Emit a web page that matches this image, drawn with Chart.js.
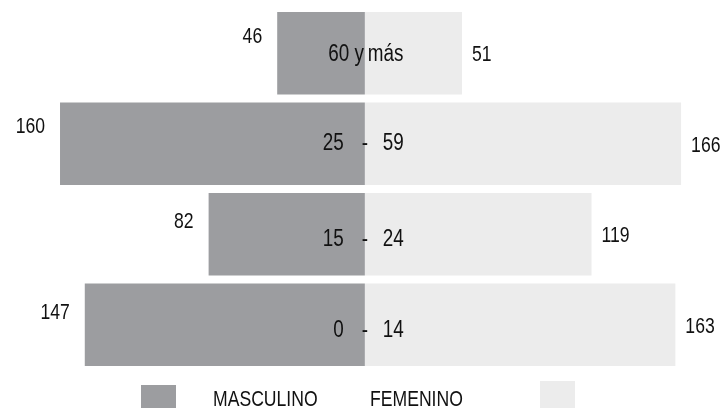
<!DOCTYPE html>
<html>
<head>
<meta charset="utf-8">
<script src="https://cdn.jsdelivr.net/npm/chart.js@4/dist/chart.umd.min.js"></script>
<style>
html,body{margin:0;padding:0;background:#fff;}
#wrap{width:723px;height:408px;position:relative;}
</style>
</head>
<body>
<div id="wrap"><canvas id="c"></canvas></div>
<script>
const categories = ["60 y más", "25 - 59", "15 - 24", "0 - 14"];
const masculino = [46, 160, 82, 147];
const femenino = [51, 166, 119, 163];
const seriesNames = ["MASCULINO", "FEMENINO"];

const FONT = "22px 'Liberation Sans', Arial, sans-serif";
const CAT_FONT = "23px 'Liberation Sans', Arial, sans-serif";
const NARROW = 0.8;
const MASC_COLOR = "#9c9da0";
const FEM_COLOR = "#ececec";
const TEXT_COLOR = "#111111";

function narrowText(ctx, text, x, y, align, sx) {
  ctx.save();
  ctx.translate(x, y);
  ctx.scale(sx || NARROW, 1);
  ctx.textAlign = align;
  ctx.fillText(text, 0, 0);
  ctx.restore();
}

const labelPlugin = {
  id: "pyramidLabels",
  afterDatasetsDraw(chart) {
    const ctx = chart.ctx;
    const xs = chart.scales.x;
    const cx = xs.getPixelForValue(0);
    const mMeta = chart.getDatasetMeta(0);
    const fMeta = chart.getDatasetMeta(1);
    const mascDy = [-16, -17, -12, -12];
    const catDy = [1, 0, 5, 6];
    ctx.save();
    ctx.fillStyle = TEXT_COLOR;
    ctx.textBaseline = "middle";
    categories.forEach((cat, i) => {
      const mb = mMeta.data[i];
      const fb = fMeta.data[i];
      const y = mb.y;
      ctx.font = FONT;
      narrowText(ctx, String(masculino[i]), Math.min(mb.x, mb.base) - 15, y + mascDy[i], "right");
      narrowText(ctx, String(femenino[i]), Math.max(fb.x, fb.base) + 10, y + 2, "left");
      const cy = y + catDy[i];
      ctx.font = CAT_FONT;
      if (cat.indexOf(" - ") >= 0) {
        const parts = cat.split(" - ");
        narrowText(ctx, parts[0], cx - 21, cy, "right", 0.82);
        narrowText(ctx, "-", cx, cy, "center", 0.82);
        narrowText(ctx, parts[1], cx + 18, cy, "left", 0.82);
      } else {
        const w = cat.split(" ");
        narrowText(ctx, w[0] + " " + w[1], cx - 1, cy, "right", 0.82);
        narrowText(ctx, w[2], cx + 3, cy, "left", 0.82);
      }
    });
    ctx.font = FONT;
    ctx.fillStyle = MASC_COLOR;
    ctx.fillRect(141, 385, 35, 30);
    ctx.fillStyle = FEM_COLOR;
    ctx.fillRect(540, 381, 35, 30);
    ctx.fillStyle = TEXT_COLOR;
    narrowText(ctx, seriesNames[0], 213, 400, "left");
    narrowText(ctx, seriesNames[1], 370, 400, "left");
    ctx.restore();
  }
};

new Chart(document.getElementById("c"), {
  type: "bar",
  data: {
    labels: categories,
    datasets: [
      { label: seriesNames[0], data: masculino.map(v => -v), backgroundColor: MASC_COLOR, borderWidth: 0 },
      { label: seriesNames[1], data: femenino, backgroundColor: FEM_COLOR, borderWidth: 0 }
    ]
  },
  options: {
    indexAxis: "y",
    responsive: true,
    maintainAspectRatio: false,
    animation: false,
    layout: { padding: { top: 8, bottom: 38, left: 0, right: 0 } },
    categoryPercentage: 1,
    barPercentage: 0.91,
    scales: {
      x: { stacked: true, display: false, min: -191.5, max: 188 },
      y: { stacked: true, display: false }
    },
    plugins: { legend: { display: false }, tooltip: { enabled: false } }
  },
  plugins: [labelPlugin]
});
</script>
</body>
</html>
